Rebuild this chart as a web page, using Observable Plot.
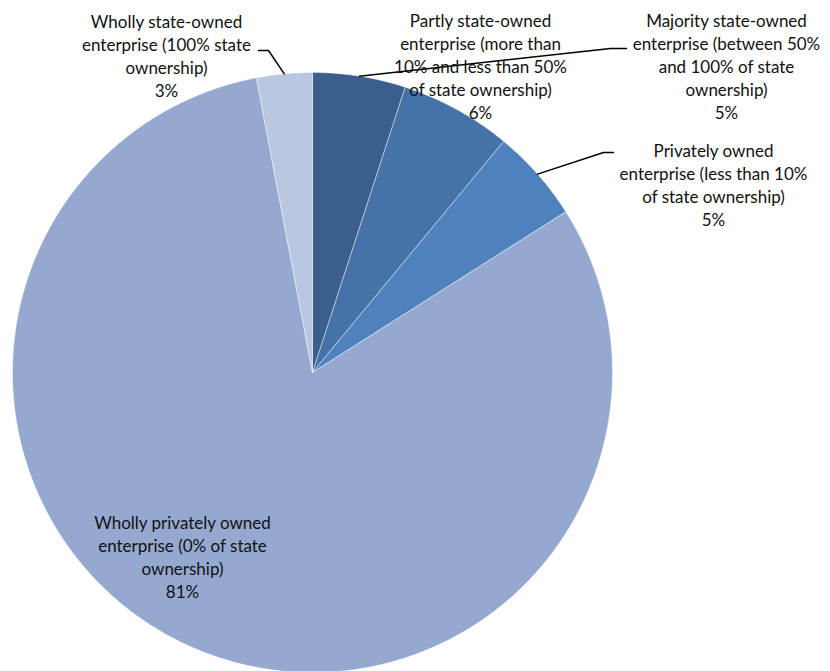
<!DOCTYPE html>
<html>
<head>
<meta charset="utf-8">
<script src="https://cdn.jsdelivr.net/npm/d3@7"></script>
<script src="https://cdn.jsdelivr.net/npm/@observablehq/plot@0.6"></script>
<style>
  html, body { margin: 0; padding: 0; background: #fff; }
</style>
</head>
<body>
<div id="chart"></div>
<script>
// Ownership categories, in clockwise order from 12 o'clock
const categories = [
  "Majority state-owned\nenterprise (between 50%\nand 100% of state\nownership)",
  "Partly state-owned\nenterprise (more than\n10% and less than 50%\nof state ownership)",
  "Privately owned\nenterprise (less than 10%\nof state ownership)",
  "Wholly privately owned\nenterprise (0% of state\nownership)",
  "Wholly state-owned\nenterprise (100% state\nownership)"
];
const shares = [5, 6, 5, 81, 3];
const colors = ["#3B5F8D", "#4572A8", "#4F81BD", "#95A9D0", "#B9C7E1"];

// Layout
const W = 830, H = 671;
const cx = 312, cy = 372, R = 300;
const labelTop = [[726, 10], [480, 10], [713, 140], [182, 512], [166, 11]];
const leaderBend = [[[610, 48], [626, 48]], null, [[603, 152], [613, 152]], null, [[268, 50], [258, 50]]];

const total = d3.sum(shares);
const polar = (a, r) => [cx + r * Math.sin(a), cy - r * Math.cos(a)];

// Slice angles
let acc = 0;
const slices = shares.map((v, i) => {
  const a0 = acc / total * 2 * Math.PI;
  acc += v;
  const a1 = acc / total * 2 * Math.PI;
  return {i, v, a0, a1, mid: (a0 + a1) / 2, color: colors[i], name: categories[i]};
});

// Wedge outlines: centre, arc, back to centre
const wedgePts = [];
for (const s of slices) {
  const n = Math.max(2, Math.ceil((s.a1 - s.a0) / (Math.PI / 360)));
  wedgePts.push({i: s.i, color: s.color, p: [cx, cy]});
  for (let k = 0; k <= n; k++) {
    wedgePts.push({i: s.i, color: s.color, p: polar(s.a0 + (s.a1 - s.a0) * k / n, R)});
  }
  wedgePts.push({i: s.i, color: s.color, p: [cx, cy]});
}

// Leader lines from the slice's outer edge to its label
const leaderPts = [];
slices.forEach(s => {
  if (!leaderBend[s.i]) return;
  leaderPts.push({i: s.i, p: polar(s.mid, R)});
  for (const b of leaderBend[s.i]) leaderPts.push({i: s.i, p: b});
});

const labels = slices.map(s => ({
  x: labelTop[s.i][0], y: labelTop[s.i][1],
  text: `${s.name}\n${s.v}%`
}));

const chart = Plot.plot({
  width: W, height: H,
  margin: 0,
  x: {domain: [0, W], range: [0, W], axis: null},
  y: {domain: [0, H], range: [0, H], axis: null},
  color: {type: "identity"},
  style: {background: "#fff"},
  marks: [
    Plot.line(wedgePts, {
      x: d => d.p[0], y: d => d.p[1], z: "i",
      fill: "color", stroke: "#ffffff", strokeWidth: 0.6, strokeOpacity: 0.7
    }),
    Plot.line(leaderPts, {
      x: d => d.p[0], y: d => d.p[1], z: "i",
      stroke: "#000", strokeWidth: 1.5
    }),
    Plot.text(labels, {
      x: "x", y: "y", text: "text",
      lineAnchor: "top", textAnchor: "middle",
      fontFamily: "Lato", fontSize: 17, lineHeight: 1.36,
      fill: "#111"
    })
  ]
});
document.getElementById("chart").appendChild(chart);
</script>
</body>
</html>
